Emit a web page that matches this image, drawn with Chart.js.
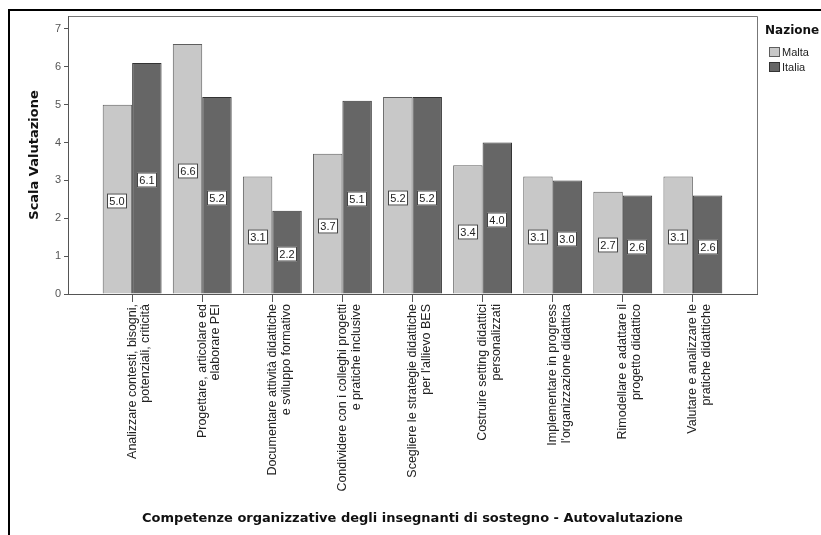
<!DOCTYPE html>
<html><head><meta charset="utf-8">
<script src="https://cdn.jsdelivr.net/npm/chart.js@4"></script>
<style>html,body{margin:0;padding:0;background:#fff;}</style>
</head><body>
<canvas id="c" width="821" height="535"></canvas>
<script>
const categories = [
  ['Analizzare contesti, bisogni,', 'potenziali, criticità'],
  ['Progettare, articolare ed', 'elaborare PEI'],
  ['Documentare attività didattiche', 'e sviluppo formativo'],
  ['Condividere con i colleghi progetti', 'e pratiche inclusive'],
  ['Scegliere le strategie didattiche', "per l'allievo BES"],
  ['Costruire setting didattici', 'personalizzati'],
  ['Implementare in progress', "l'organizzazione didattica"],
  ['Rimodellare e adattare il', 'progetto didattico'],
  ['Valutare e analizzare le', 'pratiche didattiche']
];
const maltaValues = [5.0, 6.6, 3.1, 3.7, 5.2, 3.4, 3.1, 2.7, 3.1];
const italiaValues = [6.1, 5.2, 2.2, 5.1, 5.2, 4.0, 3.0, 2.6, 2.6];
const seriesNames = ['Malta', 'Italia'];
const yTickValues = [0, 1, 2, 3, 4, 5, 6, 7];
const legendTitle = 'Nazione';
const yTitle = 'Scala Valutazione';
const xTitle = 'Competenze organizzative degli insegnanti di sostegno - Autovalutazione';

const FONT = "'Liberation Sans', Arial, sans-serif";
const TFONT = "'DejaVu Sans', Verdana, sans-serif";
const colors = [
  {fill: '#c8c8c8', border: '#5e5e5e'},
  {fill: '#666666', border: '#333333'}
];

const toPoints = vals => vals.map((v, i) => ({x: i, y: v}));

const framePlugin = {
  id: 'frame',
  beforeDraw(chart) {
    const ctx = chart.ctx;
    ctx.save();
    ctx.strokeStyle = '#000';
    ctx.lineWidth = 2;
    ctx.beginPath();
    ctx.moveTo(9, 535);
    ctx.lineTo(9, 10);
    ctx.lineTo(821, 10);
    ctx.stroke();
    const a = chart.chartArea;
    ctx.strokeStyle = '#777';
    ctx.lineWidth = 1;
    ctx.beginPath();
    ctx.moveTo(Math.round(a.left) + 0.5, Math.round(a.top) + 0.5);
    ctx.lineTo(Math.round(a.right) + 0.5, Math.round(a.top) + 0.5);
    ctx.lineTo(Math.round(a.right) + 0.5, Math.round(a.bottom) + 0.5);
    ctx.stroke();
    ctx.restore();
  }
};

const valueLabelPlugin = {
  id: 'valueLabels',
  afterDatasetsDraw(chart) {
    const ctx = chart.ctx;
    const ys = chart.scales.y;
    ctx.save();
    ctx.font = '11px ' + FONT;
    ctx.textAlign = 'center';
    ctx.textBaseline = 'middle';
    chart.data.datasets.forEach((ds, di) => {
      const meta = chart.getDatasetMeta(di);
      meta.data.forEach((el, i) => {
        const v = ds.data[i].y;
        const cx = Math.round(el.x);
        const cy = Math.round(ys.getPixelForValue(v / 2)) + 2;
        const w = 20, h = 15;
        ctx.fillStyle = '#fff';
        ctx.fillRect(cx - w / 2, cy - h / 2, w, h);
        ctx.strokeStyle = '#444';
        ctx.lineWidth = 1;
        ctx.strokeRect(cx - w / 2 + 0.5, cy - h / 2 + 0.5, w - 1, h - 1);
        ctx.fillStyle = '#222';
        ctx.fillText(v.toFixed(1), cx, cy + 0.5);
      });
    });
    ctx.restore();
  }
};

const legendPlugin = {
  id: 'customLegend',
  afterDraw(chart) {
    const ctx = chart.ctx;
    ctx.save();
    ctx.fillStyle = '#111';
    ctx.font = 'bold 12px ' + TFONT;
    ctx.textBaseline = 'middle';
    ctx.textAlign = 'left';
    ctx.fillText(legendTitle, 765, 31);
    ctx.font = '11px ' + FONT;
    chart.data.datasets.forEach((ds, i) => {
      const y = 47 + i * 15;
      ctx.fillStyle = ds.backgroundColor;
      ctx.fillRect(769, y, 11, 10);
      ctx.strokeStyle = ds.borderColor;
      ctx.lineWidth = 1;
      ctx.strokeRect(769.5, y + 0.5, 10, 9);
      ctx.fillStyle = '#222';
      ctx.fillText(ds.label, 782, y + 5.5);
    });
    ctx.restore();
  }
};

new Chart(document.getElementById('c'), {
  type: 'bar',
  data: {
    datasets: [
      {label: seriesNames[0], data: toPoints(maltaValues), backgroundColor: colors[0].fill, borderColor: colors[0].border, borderWidth: 1},
      {label: seriesNames[1], data: toPoints(italiaValues), backgroundColor: colors[1].fill, borderColor: colors[1].border, borderWidth: 1}
    ]
  },
  options: {
    responsive: false,
    animation: false,
    devicePixelRatio: 1,
    layout: {padding: {top: 16, right: 64, left: 0, bottom: 0}},
    categoryPercentage: 0.84,
    barPercentage: 1.0,
    plugins: {legend: {display: false}, tooltip: {enabled: false}},
    scales: {
      x: {
        type: 'linear',
        min: -0.915,
        max: 8.915,
        offset: false,
        grid: {display: true, offset: false, drawOnChartArea: false, drawTicks: true, tickLength: 8, color: '#555'},
        border: {display: true, color: '#555'},
        ticks: {
          stepSize: 1,
          autoSkip: false,
          includeBounds: false,
          minRotation: 90,
          maxRotation: 90,
          padding: 2,
          color: '#222',
          font: {family: FONT, size: 12.5, lineHeight: 1.1},
          callback: v => (Number.isInteger(v) && categories[v]) ? categories[v] : ''
        },
        title: {display: true, text: xTitle, color: '#111', font: {family: TFONT, size: 13, weight: 'bold'}, padding: {top: 0, bottom: 9}},
        afterFit: s => { s.height = 241; }
      },
      y: {
        min: 0,
        max: 7.34,
        grid: {display: true, drawOnChartArea: false, drawTicks: true, tickLength: 4, color: '#555'},
        border: {display: true, color: '#555'},
        ticks: {
          stepSize: 1,
          includeBounds: false,
          padding: 3,
          color: '#555',
          font: {family: FONT, size: 11},
          callback: v => yTickValues.includes(v) ? String(v) : ''
        },
        title: {display: true, text: yTitle, color: '#111', font: {family: TFONT, size: 13, weight: 'bold'}, padding: {top: 27, bottom: 0}},
        afterFit: s => { s.width = 68; }
      }
    }
  },
  plugins: [framePlugin, valueLabelPlugin, legendPlugin]
});
</script>
</body></html>
